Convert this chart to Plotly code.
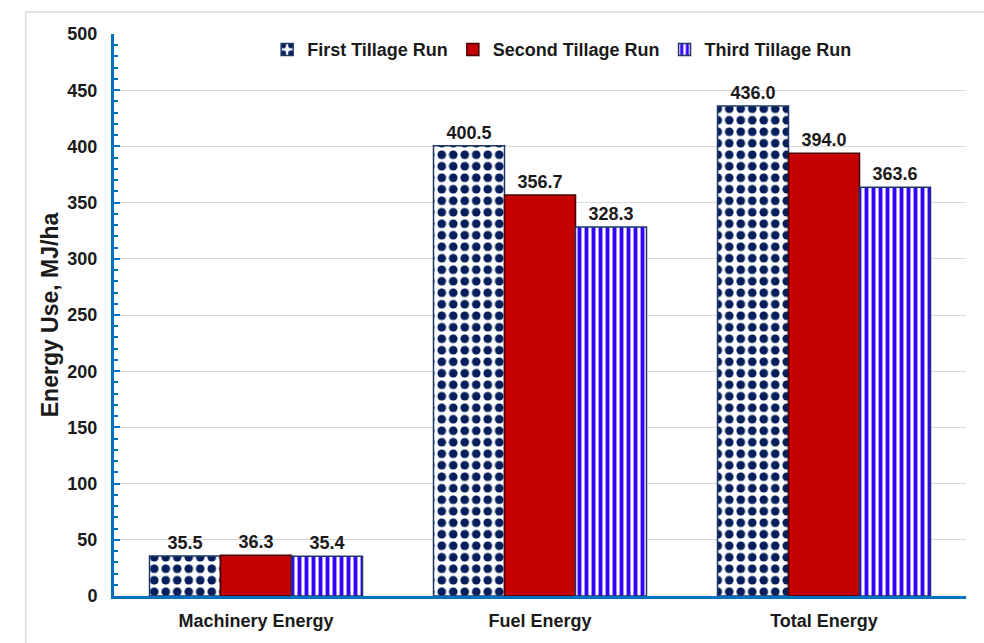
import plotly.graph_objects as go

categories = ["Machinery Energy", "Fuel Energy", "Total Energy"]
first_run = [35.5, 400.5, 436.0]
second_run = [36.3, 356.7, 394.0]
third_run = [35.4, 328.3, 363.6]
series_names = ["First Tillage Run", "Second Tillage Run", "Third Tillage Run"]

TEXT = "#1a1a1a"
font_bold = dict(family="Arial", size=18, color=TEXT)

fig = go.Figure()

fig.add_trace(go.Bar(
    name=series_names[0], x=categories, y=first_run,
    marker=dict(
        color="white",
        line=dict(color="#1F3864", width=1.5),
        pattern=dict(shape=".", fgcolor="#061E5C", bgcolor="white", size=11.5,
                     solidity=0.45, fgopacity=1),
    ),
    texttemplate="<b>%{y:.1f}</b>", textposition="outside", textfont=font_bold,
    cliponaxis=False,
))
fig.add_trace(go.Bar(
    name=series_names[1], x=categories, y=second_run,
    marker=dict(color="#C40000", line=dict(color="#4a0000", width=1.5)),
    texttemplate="<b>%{y:.1f}</b>", textposition="outside", textfont=font_bold,
    cliponaxis=False,
))
fig.add_trace(go.Bar(
    name=series_names[2], x=categories, y=third_run,
    marker=dict(
        color="white",
        line=dict(color="#1F3864", width=1.5),
        pattern=dict(shape="|", fgcolor="#3300FF", bgcolor="white", size=7,
                     solidity=0.55, fgopacity=1),
    ),
    texttemplate="<b>%{y:.1f}</b>", textposition="outside", textfont=font_bold,
    cliponaxis=False,
))

fig.update_layout(
    width=984, height=643,
    margin=dict(l=114, r=18, t=34, b=45),
    paper_bgcolor="white", plot_bgcolor="white",
    barmode="group", bargap=0.25, bargroupgap=0,
    font=dict(family="Arial", size=18, color=TEXT),
    legend=dict(
        orientation="h", x=0.526, xanchor="center", y=1.005, yanchor="top",
        font=dict(family="Arial", size=18, color=TEXT, weight="bold"),
        bgcolor="rgba(0,0,0,0)", itemwidth=30, tracegroupgap=0,
    ),
    showlegend=True,
)

fig.update_yaxes(
    range=[0, 500], dtick=50,
    showgrid=True, gridcolor="#D9D9D9", gridwidth=1,
    showline=True, linecolor="#0070C0", linewidth=3,
    ticks="inside", ticklen=6, tickcolor="#0070C0", tickwidth=2,
    minor=dict(dtick=10, ticks="inside", ticklen=4, tickcolor="#0070C0", tickwidth=2, showgrid=False),
    tickfont=dict(family="Arial", size=18, color=TEXT, weight="bold"),
    ticklabelstandoff=10,
    title=dict(text="<b>Energy Use, MJ/ha</b>", font=dict(family="Arial", size=23, color=TEXT), standoff=3),
    zeroline=False,
)
fig.update_xaxes(
    showline=True, linecolor="#0070C0", linewidth=3,
    ticks="", showgrid=False,
    tickfont=dict(family="Arial", size=18, color=TEXT, weight="bold"),
    ticklabelstandoff=6,
)

# light frame around the chart area
fig.add_shape(
    type="rect", xref="paper", yref="paper",
    x0=-0.1037, x1=1.1, y0=-0.2, y1=1.039,
    line=dict(color="#D9D9D9", width=1.5), fillcolor="rgba(0,0,0,0)", layer="below",
)

fig.write_html("out.html")
